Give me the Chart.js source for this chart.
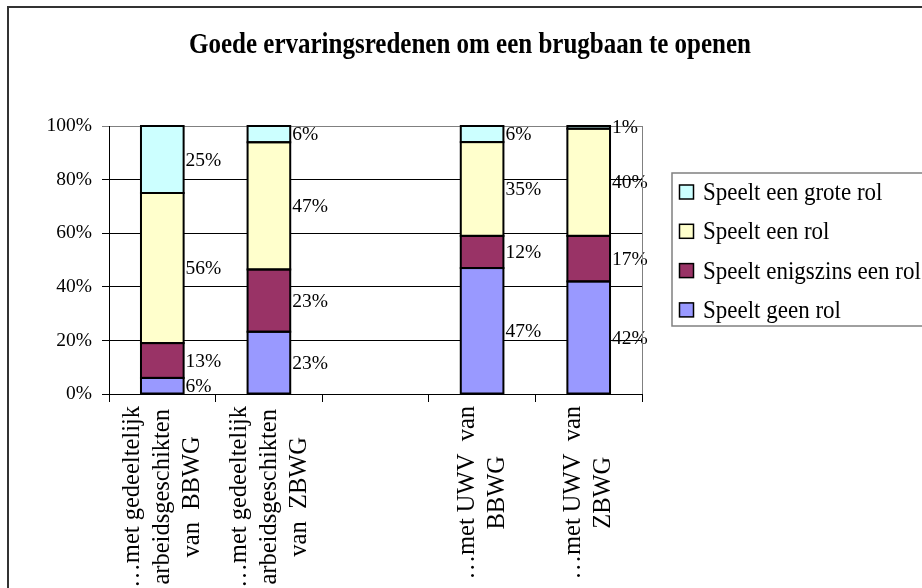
<!DOCTYPE html>
<html>
<head>
<meta charset="utf-8">
<script src="https://cdn.jsdelivr.net/npm/chart.js@4"></script>
<style>
html,body{margin:0;padding:0;background:#fff;}
canvas{display:block;}
</style>
</head>
<body>
<canvas id="c" width="922" height="588"></canvas>
<script>
// ---- data ----
const chartTitle = "Goede ervaringsredenen om een brugbaan te openen";
const categories = [
  ["…met gedeeltelijk", "arbeidsgeschikten", "van  BBWG"],
  ["…met gedeeltelijk", "arbeidsgeschikten", "van  ZBWG"],
  [""],
  ["…met UWV  van", "BBWG"],
  ["…met UWV  van", "ZBWG"]
];
const seriesNames = ["Speelt geen rol", "Speelt enigszins een rol", "Speelt een rol", "Speelt een grote rol"];
const geenRol       = [6, 23, null, 47, 42];
const enigszinsRol  = [13, 23, null, 12, 17];
const eenRol        = [56, 47, null, 35, 40];
const groteRol      = [25, 6, null, 6, 1];
const yTicks = [0, 20, 40, 60, 80, 100];

// ---- styles ----
const colors = ["#9999FF", "#993366", "#FFFFCC", "#CCFFFF"];
const serif = "'Liberation Serif', 'Times New Roman', serif";

const raw = [geenRol, enigszinsRol, eenRol, groteRol];
const totals = categories.map((_, i) => raw.reduce((s, a) => s + (a[i] || 0), 0));
const datasets = raw.map((arr, k) => ({
  label: seriesNames[k],
  rawValues: arr,
  data: arr.map((v, i) => v == null ? null : v / totals[i] * 100),
  backgroundColor: colors[k],
  borderColor: "#000",
  borderWidth: 0,
  inflateAmount: 0,
  barPercentage: 0.4,
  categoryPercentage: 1.0
}));

const decor = {
  id: "decor",
  beforeDraw(chart) {
    const ctx = chart.ctx;
    ctx.save();
    ctx.fillStyle = "#fff";
    ctx.fillRect(0, 0, chart.width, chart.height);
    ctx.restore();
  },
  afterDraw(chart) {
    const ctx = chart.ctx;
    const area = chart.chartArea;
    ctx.save();
    // outer chart border
    ctx.strokeStyle = "#333";
    ctx.lineWidth = 2;
    ctx.strokeRect(8, 7, 1000, 1000);

    // plot area right border (gray)
    ctx.strokeStyle = "#808080";
    ctx.lineWidth = 1;
    ctx.beginPath();
    ctx.moveTo(Math.round(area.right) + 0.5, area.top);
    ctx.lineTo(Math.round(area.right) + 0.5, area.bottom);
    ctx.stroke();

    // title
    ctx.fillStyle = "#000";
    ctx.font = "bold 25px " + serif;
    ctx.textAlign = "center";
    ctx.textBaseline = "alphabetic";
    ctx.save();
    ctx.translate(470, 53);
    ctx.scale(1.0, 1.2);
    ctx.fillText(chartTitle, 0, 0);
    ctx.restore();

    // x category labels (rotated, centred lines)
    const xs = chart.scales.x;
    ctx.font = "24.5px " + serif;
    ctx.textBaseline = "middle";
    ctx.textAlign = "center";
    const lineH = 30;
    categories.forEach((lines, i) => {
      const x = xs.getPixelForTick(i);
      const maxW = Math.max(...lines.map(l => ctx.measureText(l).width));
      const yc = area.bottom + 12 + maxW / 2;
      ctx.save();
      ctx.translate(x, yc);
      ctx.rotate(-Math.PI / 2);
      ctx.scale(1, 1.05);
      lines.forEach((l, j) => {
        const off = (j - (lines.length - 1) / 2) * lineH / 1.05;
        ctx.fillText(l, 0, off);
      });
      ctx.restore();
    });

    // legend
    const lx = 672, ly = 173, lh = 153;
    ctx.strokeStyle = "#808080";
    ctx.lineWidth = 1.5;
    ctx.strokeRect(lx, ly, 400, lh);
    ctx.textAlign = "left";
    ctx.textBaseline = "middle";
    const order = [3, 2, 1, 0];
    order.forEach((k, r) => {
      const cy = 192.5 + r * 39.3;
      ctx.fillStyle = colors[k];
      ctx.fillRect(679.5, cy - 7.5, 14, 14);
      ctx.strokeStyle = "#000";
      ctx.lineWidth = 1.5;
      ctx.strokeRect(679.5, cy - 7.5, 14, 14);
      ctx.fillStyle = "#000";
      ctx.save();
      ctx.translate(703, cy + 1);
      ctx.scale(1, 1.1);
      ctx.font = "23px " + serif;
      ctx.fillText(seriesNames[k], 0, 0);
      ctx.restore();
    });
    ctx.restore();
  },
  afterDatasetsDraw(chart) {
    const ctx = chart.ctx;
    ctx.save();
    // bar outlines (from the library's bar elements)
    ctx.strokeStyle = "#000";
    ctx.lineWidth = 2;
    chart.data.datasets.forEach((ds, k) => {
      chart.getDatasetMeta(k).data.forEach((el, i) => {
        if (ds.rawValues[i] == null) return;
        const p = el.getProps(["x", "y", "base", "width"], true);
        const top = Math.min(p.y, p.base), h = Math.abs(p.base - p.y);
        ctx.strokeRect(p.x - p.width / 2, top, p.width, h);
      });
    });
    // data labels
    ctx.font = "19.5px " + serif;
    ctx.fillStyle = "#000";
    ctx.textAlign = "left";
    ctx.textBaseline = "middle";
    chart.data.datasets.forEach((ds, k) => {
      const meta = chart.getDatasetMeta(k);
      meta.data.forEach((el, i) => {
        const v = ds.rawValues[i];
        if (v == null) return;
        const p = el.getProps(["x", "y", "base", "width"], true);
        ctx.fillText(v + "%", p.x + p.width / 2 + 2, (p.y + p.base) / 2 + 1);
      });
    });
    ctx.restore();
  }
};

new Chart(document.getElementById("c"), {
  type: "bar",
  data: { labels: categories.map(c => c.join(" ")), datasets },
  options: {
    responsive: false,
    animation: false,
    devicePixelRatio: 1,
    layout: { autoPadding: false, padding: { left: 0, top: 126, right: 280, bottom: 0 } },
    plugins: { legend: { display: false }, title: { display: false }, tooltip: { enabled: false } },
    scales: {
      x: {
        stacked: true,
        offset: true,
        grid: { offset: true, drawOnChartArea: false, drawTicks: true, tickLength: 8, color: "#000", lineWidth: 1 },
        border: { display: true, color: "#000", width: 1 },
        ticks: { display: false },
        afterFit(s) { s.height = 588 - 394; }
      },
      y: {
        stacked: true,
        min: 0,
        max: 100,
        afterBuildTicks(s) { s.ticks = yTicks.map(v => ({ value: v })); },
        grid: {
          color: c => (c.tick && c.tick.value === 100) ? "#808080" : "#000",
          lineWidth: 1,
          tickLength: 7,
          drawTicks: true
        },
        border: { display: true, color: "#000", width: 1 },
        ticks: {
          color: "#000",
          padding: 10,
          font: { family: serif, size: 19.5 },
          callback: v => v + "%"
        },
        afterFit(s) { s.width = 109; }
      }
    }
  },
  plugins: [decor]
});
</script>
</body>
</html>
